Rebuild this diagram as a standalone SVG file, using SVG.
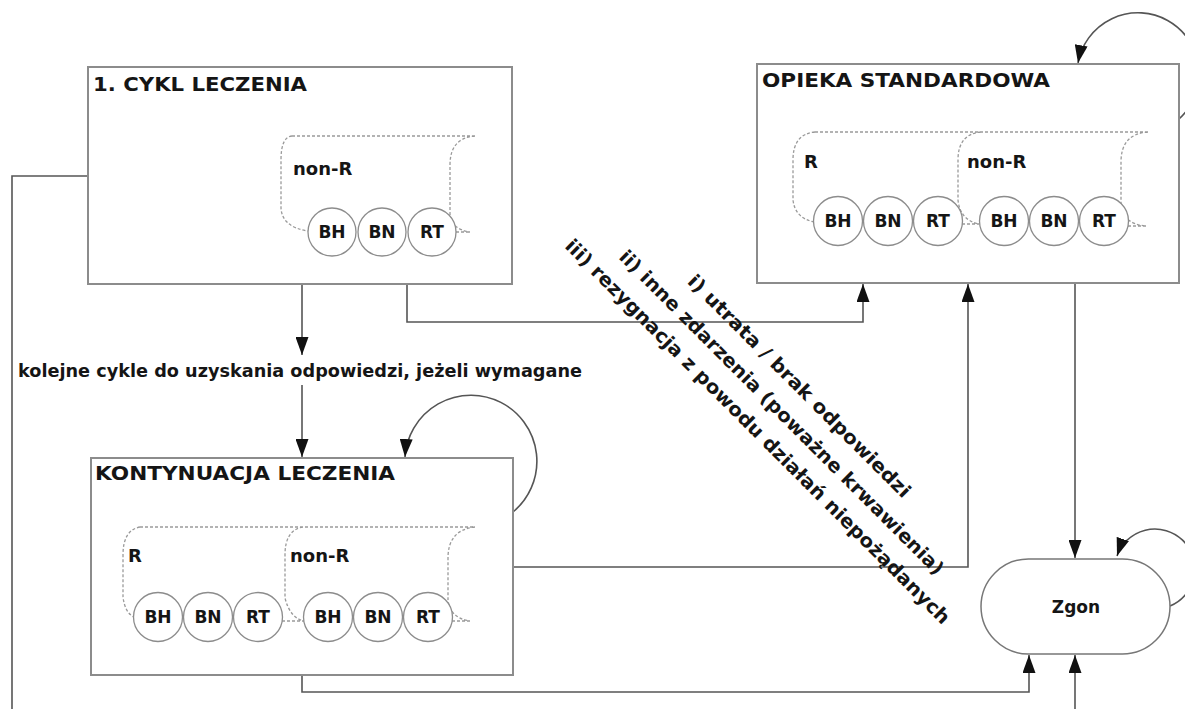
<svg xmlns="http://www.w3.org/2000/svg" width="1185" height="709" viewBox="0 0 1185 709">
<defs>
<marker id="arr" markerUnits="userSpaceOnUse" viewBox="0 0 18 13" refX="18" refY="6.5" markerWidth="18" markerHeight="13" orient="auto">
<path d="M0,0 L18,6.5 L0,13 z" fill="#111"/>
</marker>
</defs>
<style>
.box{fill:#fff;stroke:#8c8c8c;stroke-width:2}
.dash{fill:none;stroke:#9a9a9a;stroke-width:1.3;stroke-dasharray:3 2}
.cir{fill:#fff;stroke:#8c8c8c;stroke-width:1.3}
.con{fill:none;stroke:#555;stroke-width:1.6}
.arrow{marker-end:url(#arr)}
text{font-family:"DejaVu Sans",Verdana,sans-serif;font-weight:bold;fill:#151515}
.title{font-size:19px}
.grp{font-size:18px}
.cl{font-size:17px;text-anchor:middle}
.lab{font-size:18px}
.diag{font-size:19px}
</style>
<rect width="1185" height="709" fill="#fff"/>

<g id="connectors">
<path class="con arrow" d="M302 284 V355"/>
<path class="con arrow" d="M302 385 V457"/>
<path class="con arrow" d="M407 284 V322 H863 V284"/>
<path class="con arrow" d="M513 567 H968 V284"/>
<path class="con arrow" d="M302 675 V692 H1029 V655"/>
<path class="con arrow" d="M88 176 H12 V740 H1075 V655"/>
<path class="con arrow" d="M1075 283 V558"/>
<path class="con arrow" d="M1179 119 A61 61 0 1 0 1078 63"/>
<path class="con arrow" d="M513 512 A66 66 0 1 0 405 457"/>
<path class="con arrow" d="M1170 606 A40 40 0 1 0 1117 556"/>
<text class="lab" x="18" y="377" textLength="564" lengthAdjust="spacingAndGlyphs">kolejne cykle do uzyskania odpowiedzi, jeżeli wymagane</text>
<text class="diag" transform="translate(686.5,282.5) rotate(45)" textLength="306" lengthAdjust="spacingAndGlyphs">i) utrata / brak odpowiedzi</text>
<text class="diag" transform="translate(618,258) rotate(45)" textLength="450" lengthAdjust="spacingAndGlyphs">ii) inne zdarzenia (poważne krwawienia)</text>
<text class="diag" transform="translate(564,247) rotate(45)" textLength="535" lengthAdjust="spacingAndGlyphs">iii) rezygnacja z powodu działań niepożądanych</text>
</g>

<g id="node-cykl">
<rect class="box" x="88" y="67" width="424" height="217"/>
<text class="title" x="93" y="91" textLength="214" lengthAdjust="spacingAndGlyphs">1. CYKL LECZENIA</text>
<path class="dash" d="M292 136 H475 M292 136 Q281 137 281 160 L281 208 Q282 227 308 231 M475 136 Q450 138 450 165 L450 214 Q451 229 470 232 M456 232 H470"/>
<text class="grp" x="293" y="175">non-R</text>
<circle class="cir" cx="332" cy="232" r="24"/>
<circle class="cir" cx="382" cy="232" r="24"/>
<circle class="cir" cx="432" cy="232" r="24"/>
<text class="cl" x="332" y="238">BH</text>
<text class="cl" x="382" y="238">BN</text>
<text class="cl" x="432" y="238">RT</text>
</g>

<g id="node-opieka">
<rect class="box" x="757" y="64" width="422" height="219"/>
<text class="title" x="762" y="87" textLength="288" lengthAdjust="spacingAndGlyphs">OPIEKA STANDARDOWA</text>
<path class="dash" d="M815 132 H1148 M815 132 Q793 134 793 160 L793 200 Q795 218 814 222 M981 132 Q958 134 958 160 L958 200 Q960 220 979 224 M962 224 H979 M1148 132 Q1121 134 1121 162 L1121 205 Q1123 224 1146 226 M1128 226 H1146"/>
<text class="grp" x="804" y="168">R</text>
<text class="grp" x="967" y="168">non-R</text>
<circle class="cir" cx="838" cy="221" r="24.5"/>
<circle class="cir" cx="888" cy="221" r="24.5"/>
<circle class="cir" cx="938" cy="221" r="24.5"/>
<circle class="cir" cx="1004" cy="221" r="24.5"/>
<circle class="cir" cx="1054" cy="221" r="24.5"/>
<circle class="cir" cx="1104" cy="221" r="24.5"/>
<text class="cl" x="838" y="227">BH</text>
<text class="cl" x="888" y="227">BN</text>
<text class="cl" x="938" y="227">RT</text>
<text class="cl" x="1004" y="227">BH</text>
<text class="cl" x="1054" y="227">BN</text>
<text class="cl" x="1104" y="227">RT</text>
</g>

<g id="node-kont">
<rect class="box" x="91" y="458" width="422" height="217"/>
<text class="title" x="95" y="480" textLength="300" lengthAdjust="spacingAndGlyphs">KONTYNUACJA LECZENIA</text>
<path class="dash" d="M140 527 H475 M140 527 Q123 530 123 555 L123 597 Q125 613 134 617 M303 527 Q285 530 285 555 L285 598 Q290 618 304 621 M282 621 H304 M475 527 Q448 530 448 558 L448 600 Q450 618 470 621 M452 621 H470"/>
<text class="grp" x="128" y="562">R</text>
<text class="grp" x="290" y="562">non-R</text>
<circle class="cir" cx="158" cy="617" r="24.5"/>
<circle class="cir" cx="208" cy="617" r="24.5"/>
<circle class="cir" cx="258" cy="617" r="24.5"/>
<circle class="cir" cx="328" cy="617" r="24.5"/>
<circle class="cir" cx="378" cy="617" r="24.5"/>
<circle class="cir" cx="428" cy="617" r="24.5"/>
<text class="cl" x="158" y="623">BH</text>
<text class="cl" x="208" y="623">BN</text>
<text class="cl" x="258" y="623">RT</text>
<text class="cl" x="328" y="623">BH</text>
<text class="cl" x="378" y="623">BN</text>
<text class="cl" x="428" y="623">RT</text>
</g>

<g id="node-zgon">
<rect class="box" x="981" y="559" width="189" height="95" rx="47.5" ry="47.5" style="stroke-width:1.5;stroke:#777"/>
<text class="cl" x="1076" y="613">Zgon</text>
</g>
</svg>
